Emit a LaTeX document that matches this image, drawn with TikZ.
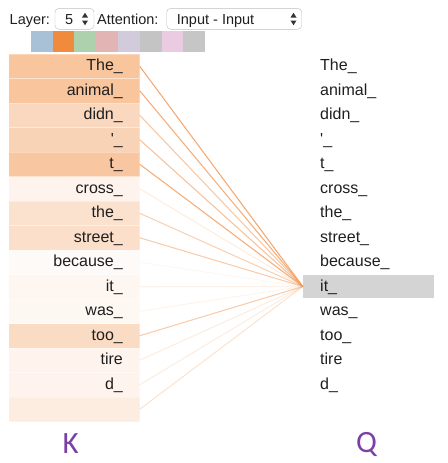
\documentclass[tikz,border=0pt]{standalone}
\usepackage{fontspec}
\setmainfont{Liberation Sans}
\newfontfamily\kqfont{Carlito}
\definecolor{attn}{RGB}{240,138,60}
\definecolor{attnline}{RGB}{242,152,85}
\definecolor{kqpurple}{RGB}{123,63,168}
\definecolor{hlgrey}{RGB}{212,212,212}
\definecolor{swA}{RGB}{168,193,214}
\definecolor{swB}{RGB}{240,138,60}
\definecolor{swC}{RGB}{172,209,172}
\definecolor{swD}{RGB}{227,180,180}
\definecolor{swE}{RGB}{210,203,220}
\definecolor{swF}{RGB}{196,196,196}
\definecolor{swG}{RGB}{234,203,226}
\definecolor{swH}{RGB}{198,198,198}
\tikzset{
  krow/.style={draw=white, draw opacity=0.3, line width=0.4pt, minimum width=131pt, minimum height=24.5pt, inner sep=0pt},
  ktext/.style={anchor=base east, inner sep=0pt, font=\fontsize{16}{19}\selectfont, text=black!88},
  qtext/.style={anchor=base west, inner sep=0pt, font=\fontsize{16}{19}\selectfont, text=black!88},
  hdr/.style={anchor=base west, inner sep=0pt, font=\fontsize{14.5}{17}\selectfont, text=black!88},
  selbox/.style={draw=black!25, fill=white, rounded corners=4pt, inner sep=0pt, minimum height=21pt},
  swatch/.style={draw=none, minimum width=21.8pt, minimum height=21pt, inner sep=0pt},
  attline/.style={draw=attnline, line width=1.05pt},
  kqlabel/.style={inner sep=0pt, font=\kqfont\fontsize{31}{33}\selectfont, text=kqpurple},
  updown/.style={fill=black!80, draw=none}
}
\begin{document}
\begin{tikzpicture}[x=1pt,y=-1pt]
\useasboundingbox (0,0) rectangle (447,463);
% header
\node[hdr] (layerlbl) at (9.5,24) {Layer:};
\node[selbox, minimum width=39pt] (sel1) at (74.5,18.8) {};
\node[hdr] (sel1txt) at (65,24) {5};
\fill[updown] (82,17.5) -- (88,17.5) -- (85,12.8) -- cycle;
\fill[updown] (82,20.5) -- (88,20.5) -- (85,25.2) -- cycle;
\node[hdr] (attlbl) at (97,24) {Attention:};
\node[selbox, minimum width=135pt] (sel2) at (234.2,18.8) {};
\node[hdr] (sel2txt) at (176.7,24) {Input - Input};
\fill[updown] (290.5,17.5) -- (296.5,17.5) -- (293.5,12.8) -- cycle;
\fill[updown] (290.5,20.5) -- (296.5,20.5) -- (293.5,25.2) -- cycle;
% swatches
\foreach \j/\c in {0/swA,1/swB,2/swC,3/swD,4/swE,5/swF,6/swG,7/swH}{
  \node[swatch, fill=\c] (sw\j) at ({41.6+\j*21.8},41.2) {};
}
% highlighted query row
\node[fill=hlgrey, minimum width=131pt, minimum height=23pt, inner sep=0pt] (qit) at (368.5,286.5) {};
% rows
\foreach \i/\w/\t in {1/50/The\_, 2/50/animal\_, 3/33/didn\_, 4/38/\textquotesingle\_, 5/48/t\_, 6/9/cross\_, 7/25/the\_, 8/27/street\_, 9/4/because\_, 10/7/it\_, 11/6/was\_, 12/30/too\_, 13/9/tire, 14/9/d\_, 15/16/{}}{
  \pgfmathsetmacro\yy{54+(\i-0.5)*24.5}
  \node[krow, fill=attn!\w!white] (k\i) at (74,\yy) {};
  \node[ktext] (kt\i) at (123,\yy+4.5) {\t};
  \ifnum\i<15
    \node[qtext] (qt\i) at (320,\yy+4.5) {\t};
  \fi
}
% attention lines
\foreach \i/\o in {1/0.85, 2/0.8, 3/0.55, 4/0.6, 5/0.8, 6/0.18, 7/0.45, 8/0.5, 9/0.07, 10/0.13, 11/0.11, 12/0.5, 13/0.18, 14/0.18, 15/0.28}{
  \draw[attline, draw opacity=\o] (k\i.east) -- (qit.west);
}
% K and Q labels
\node[kqlabel] (klabel) at (70.8,444) {K};
\node[kqlabel] (qlabel) at (366.5,444) {Q};
\end{tikzpicture}
\end{document}
